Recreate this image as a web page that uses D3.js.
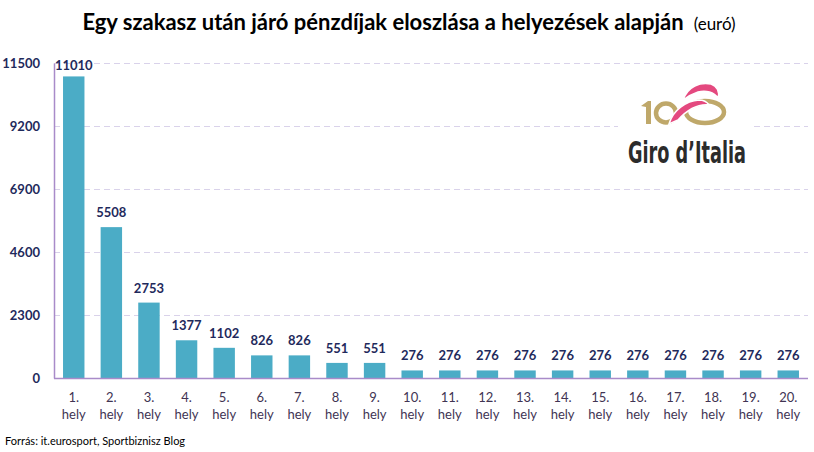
<!DOCTYPE html>
<html>
<head>
<meta charset="utf-8">
<script src="https://cdn.jsdelivr.net/npm/d3@7"></script>
<style>
  body { margin: 0; background: #fff; }
  svg { display: block; }
</style>
</head>
<body>
<div id="chart"></div>
<script>
// chart data
var places = ["1.", "2.", "3.", "4.", "5.", "6.", "7.", "8.", "9.", "10.",
  "11.", "12.", "13.", "14.", "15.", "16.", "17.", "18.", "19.", "20."];
var prizes = [11010, 5508, 2753, 1377, 1102, 826, 826, 551, 551, 276,
  276, 276, 276, 276, 276, 276, 276, 276, 276, 276];
var yTicks = [0, 2300, 4600, 6900, 9200, 11500];

var svgWidth = 814;
var svgHeight = 452;

var svg = d3.select("#chart")
  .append("svg")
  .attr("width", svgWidth)
  .attr("height", svgHeight);

// plot area edges
var plotLeft = 54, plotRight = 808, plotTop = 63, plotBottom = 378;

var x = d3.scaleBand()
  .domain(places)
  .range([plotLeft, plotRight])
  .paddingInner(0.43)
  .paddingOuter(0.24);

var y = d3.scaleLinear()
  .domain([0, 11500])
  .range([plotBottom, plotTop]);

// title
var title = svg.append("text")
  .attr("x", 409)
  .attr("y", 30)
  .attr("text-anchor", "middle")
  .style("font-family", "Lato, 'Open Sans', sans-serif")
  .style("fill", "#000");
title.append("tspan")
  .style("font-size", "22px")
  .style("font-weight", "bold")
  .text("Egy szakasz után járó pénzdíjak eloszlása a helyezések alapján");
title.append("tspan")
  .attr("dx", 10)
  .style("font-size", "17px")
  .text("(euró)");

// dashed gridlines
svg.append("g")
  .selectAll("line")
  .data(yTicks.filter(d => d > 0))
  .enter()
  .append("line")
  .attr("x1", plotLeft)
  .attr("x2", plotRight)
  .attr("y1", d => Math.round(y(d)) + 0.5)
  .attr("y2", d => Math.round(y(d)) + 0.5)
  .attr("stroke", "#d9d2ea")
  .attr("stroke-width", 1)
  .attr("stroke-dasharray", "6,4");

// y axis
var yAxis = svg.append("g")
  .attr("transform", `translate(${plotLeft},0)`)
  .call(d3.axisLeft(y).tickValues(yTicks).tickSize(0).tickPadding(14).tickFormat(d3.format("d")));
yAxis.select(".domain").attr("stroke", "#a98bc9").attr("stroke-width", 1.5);
yAxis.selectAll("text")
  .style("font-family", "Lato, 'Open Sans', sans-serif")
  .style("font-size", "13px")
  .style("font-weight", "bold")
  .style("fill", "#1f2a5c");

// logo (white box hides gridlines)
var logo = svg.append("g");
logo.append("rect")
  .attr("x", 618).attr("y", 68).attr("width", 136).attr("height", 110)
  .attr("fill", "#fff");
// gold "1"
logo.append("path")
  .attr("d", "M641,106 L648,101 L651,101 L651,124 L646,124 L646,107 Z")
  .attr("fill", "#bfa86a");
// gold loops "00"
logo.append("ellipse")
  .attr("cx", 666).attr("cy", 113).attr("rx", 10).attr("ry", 9.5)
  .attr("fill", "none").attr("stroke", "#bfa86a").attr("stroke-width", 4.5);
logo.append("ellipse")
  .attr("cx", 705).attr("cy", 112).attr("rx", 19).attr("ry", 11)
  .attr("fill", "none").attr("stroke", "#bfa86a").attr("stroke-width", 4.5);
// pink swooshes with white edges
logo.append("path")
  .attr("d", "M683,100 C688,86 700,82 711,84 C717,86 720,92 718,98 C714,92 706,90 698,92 C692,94 687,97 683,100 Z")
  .attr("fill", "#e4497f").attr("stroke", "#fff").attr("stroke-width", 1.5);
logo.append("path")
  .attr("d", "M669,124 C673,110 686,101 699,100 C704,100 707,102 709,105 C699,104 688,109 678,120 Z")
  .attr("fill", "#e4497f").attr("stroke", "#fff").attr("stroke-width", 1.5);
logo.append("text")
  .attr("x", 628)
  .attr("y", 163)
  .attr("textLength", 118)
  .attr("lengthAdjust", "spacingAndGlyphs")
  .style("font-family", "'Liberation Sans Narrow', 'DejaVu Sans Condensed', sans-serif")
  .style("font-size", "30px")
  .style("font-weight", "bold")
  .style("fill", "#2b2b2b")
  .text("Giro d’Italia");

// bars
svg.append("g")
  .selectAll("rect")
  .data(prizes)
  .enter()
  .append("rect")
  .attr("x", (d, i) => x(places[i]))
  .attr("y", d => y(d))
  .attr("width", x.bandwidth())
  .attr("height", d => plotBottom - y(d))
  .attr("fill", "#4bacc6");

// value labels
svg.append("g")
  .selectAll("text")
  .data(prizes)
  .enter()
  .append("text")
  .attr("x", (d, i) => x(places[i]) + x.bandwidth() / 2)
  .attr("y", d => Math.max(y(d) - 10, 70))
  .attr("text-anchor", "middle")
  .style("font-family", "Lato, 'Open Sans', sans-serif")
  .style("font-size", "13px")
  .style("font-weight", "bold")
  .style("fill", "#1f2a5c")
  .text(d => d);

// x axis line
svg.append("line")
  .attr("x1", plotLeft).attr("x2", plotRight)
  .attr("y1", plotBottom + 0.5).attr("y2", plotBottom + 0.5)
  .attr("stroke", "#a98bc9").attr("stroke-width", 1.5);

// x labels on two lines
var xl = svg.append("g")
  .selectAll("text")
  .data(places)
  .enter()
  .append("text")
  .attr("text-anchor", "middle")
  .style("font-family", "Lato, 'Open Sans', sans-serif")
  .style("font-size", "13px")
  .style("fill", "#413453");
xl.append("tspan")
  .attr("x", d => x(d) + x.bandwidth() / 2)
  .attr("y", 402)
  .text(d => d);
xl.append("tspan")
  .attr("x", d => x(d) + x.bandwidth() / 2)
  .attr("y", 419)
  .text("hely");

// source
svg.append("text")
  .attr("x", 5)
  .attr("y", 445)
  .style("font-family", "Lato, 'Open Sans', sans-serif")
  .style("font-size", "11px")
  .style("fill", "#000")
  .text("Forrás: it.eurosport, Sportbiznisz Blog");
</script>
</body>
</html>
